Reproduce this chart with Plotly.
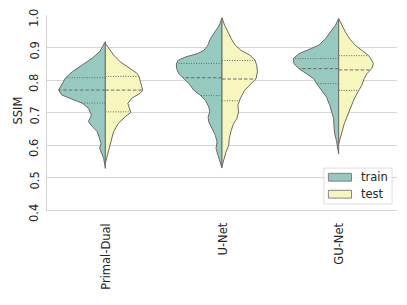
import numpy as np
import plotly.graph_objects as go

# ---------------- data ----------------
categories = ["Primal-Dual", "U-Net", "GU-Net"]
groups = ["train", "test"]

# kernel-density outlines: SSIM values and relative density (arbitrary units)
pd_train_ssim = [0.918, 0.887, 0.867, 0.846, 0.826, 0.807, 0.785, 0.769, 0.754, 0.738, 0.728,
                 0.713, 0.692, 0.672, 0.656, 0.641, 0.621, 0.605, 0.590, 0.574, 0.559, 0.528]
pd_train_dens = [0, 5.7, 13.3, 23, 33, 40, 44, 47, 44, 32, 23,
                 17, 14, 17, 13, 8, 6, 4.3, 5.7, 3.3, 1.7, 0]
pd_test_ssim = [0.913, 0.897, 0.877, 0.856, 0.836, 0.821, 0.810, 0.795, 0.779, 0.769, 0.759,
                0.744, 0.728, 0.713, 0.700, 0.687, 0.667, 0.641, 0.610, 0.585, 0.559, 0.544]
pd_test_dens = [0, 3.3, 8.3, 15, 25, 31.7, 34, 35, 36.7, 37.7, 35,
                26.7, 22.7, 24.3, 25.7, 20, 13.3, 8.3, 5.7, 4, 1.7, 0]

un_train_ssim = [0.991, 0.968, 0.948, 0.927, 0.907, 0.891, 0.881, 0.871, 0.861, 0.850, 0.835,
                 0.819, 0.804, 0.789, 0.768, 0.753, 0.737, 0.717, 0.702, 0.686, 0.671, 0.655,
                 0.630, 0.609, 0.589, 0.568, 0.548, 0.529]
un_train_dens = [0, 2.7, 7.3, 11.7, 14.3, 18.3, 25, 36.7, 44, 46, 45.7,
                 43.3, 38.3, 33.3, 28.3, 21.7, 16.7, 13.3, 12.3, 14, 13.3, 10.7,
                 6.7, 5, 6, 4, 2, 0]
un_test_ssim = [0.991, 0.968, 0.948, 0.927, 0.907, 0.891, 0.876, 0.861, 0.845, 0.825, 0.804,
                0.789, 0.768, 0.742, 0.722, 0.702, 0.681, 0.666, 0.645, 0.619, 0.599, 0.578,
                0.553, 0.535]
un_test_dens = [0, 2.7, 6, 9.3, 13.3, 19.3, 28.3, 33.3, 35, 35.7, 34.3,
                29.3, 22.7, 18.3, 16, 16.7, 15, 11.7, 9.3, 7.3, 6.7, 4,
                1.7, 0]

gu_train_ssim = [0.989, 0.968, 0.948, 0.927, 0.907, 0.891, 0.881, 0.866, 0.850, 0.835, 0.819,
                 0.804, 0.789, 0.768, 0.748, 0.722, 0.702, 0.681, 0.655, 0.635, 0.614, 0.599,
                 0.573]
gu_train_dens = [0, 3.3, 8.3, 13.3, 20, 31.7, 40, 45.7, 45, 40, 31.7,
                 25, 22.3, 16.7, 12.3, 9, 6.7, 5, 4.7, 4, 2.3, 1.3,
                 0]
gu_test_ssim = [0.989, 0.968, 0.948, 0.927, 0.907, 0.891, 0.876, 0.861, 0.850, 0.835, 0.819,
                0.804, 0.784, 0.763, 0.742, 0.717, 0.691, 0.666, 0.640, 0.619, 0.604]
gu_test_dens = [0, 3.3, 6.7, 11, 16.7, 23.3, 30, 33.3, 35, 33.3, 28.3,
                25.7, 23.3, 19.3, 15.7, 12.3, 9, 5.7, 3.3, 1.7, 0]

# quartiles (Q1, median, Q3)
pd_train_q = [0.729, 0.769, 0.807]
pd_test_q = [0.702, 0.769, 0.811]
un_train_q = [0.752, 0.807, 0.851]
un_test_q = [0.736, 0.803, 0.860]
gu_train_q = [0.789, 0.835, 0.866]
gu_test_q = [0.768, 0.831, 0.875]

y_ticks = [0.4, 0.5, 0.6, 0.7, 0.8, 0.9, 1.0]
y_ticklabels = ["0.4", "0.5", "0.6", "0.7", "0.8", "0.9", "1.0"]
y_title = "SSIM"

# ---------------- styling ----------------
FILL = {"train": "#96cac1", "test": "#f6f6bd"}
EDGE = "#6a6a6a"
TEXT = "#262626"
GRID = "#d5d5d5"
FONT = "DejaVu Sans"
FS = 11.5
HALF_WIDTH = 0.4

outlines = {
    ("Primal-Dual", "train"): (pd_train_ssim, pd_train_dens, pd_train_q),
    ("Primal-Dual", "test"): (pd_test_ssim, pd_test_dens, pd_test_q),
    ("U-Net", "train"): (un_train_ssim, un_train_dens, un_train_q),
    ("U-Net", "test"): (un_test_ssim, un_test_dens, un_test_q),
    ("GU-Net", "train"): (gu_train_ssim, gu_train_dens, gu_train_q),
    ("GU-Net", "test"): (gu_test_ssim, gu_test_dens, gu_test_q),
}
dmax = max(max(v[1]) for v in outlines.values())

fig = go.Figure()
qx, qy, mx, my = [], [], [], []
for i, cat in enumerate(categories):
    for g in groups:
        ys, ds, qs = outlines[(cat, g)]
        ys = np.array(ys, dtype=float)
        w = np.array(ds, dtype=float) / dmax * HALF_WIDTH
        sgn = -1 if g == "train" else 1
        xs = list(i + sgn * w) + [i, i]
        yy = list(ys) + [ys[-1], ys[0]]
        fig.add_trace(go.Scatter(
            x=xs, y=yy, mode="lines", fill="toself", fillcolor=FILL[g],
            line=dict(color=EDGE, width=1), showlegend=False, hoverinfo="skip"))
        order = np.argsort(ys)
        for k, q in enumerate(qs):
            wq = np.interp(q, ys[order], w[order])
            if k == 1:
                mx += [i, i + sgn * wq, None]
                my += [q, q, None]
            else:
                qx += [i, i + sgn * wq, None]
                qy += [q, q, None]

fig.add_trace(go.Scatter(x=qx, y=qy, mode="lines",
                         line=dict(color=EDGE, width=1, dash="1px,1.5px"),
                         showlegend=False, hoverinfo="skip"))
fig.add_trace(go.Scatter(x=mx, y=my, mode="lines",
                         line=dict(color=EDGE, width=1, dash="3.5px,2px"),
                         showlegend=False, hoverinfo="skip"))

annotations = []
# y tick labels (rotated, matplotlib style)
for v, lab in zip(y_ticks, y_ticklabels):
    annotations.append(dict(xref="paper", yref="y", x=0, y=v, text=lab, textangle=-90,
                            showarrow=False, xanchor="center", yanchor="middle",
                            xshift=-13, yshift=-3,
                            font=dict(family=FONT, size=FS, color=TEXT)))
# y axis title
annotations.append(dict(xref="paper", yref="paper", x=0, y=0.51, text=y_title, textangle=-90,
                        showarrow=False, xanchor="center", yanchor="middle", xshift=-29,
                        font=dict(family=FONT, size=FS, color=TEXT)))
# x tick labels
for i, cat in enumerate(categories):
    annotations.append(dict(xref="x", yref="paper", x=i, y=0, text=cat, textangle=-90,
                            showarrow=False, xanchor="center", yanchor="top", yshift=-11,
                            font=dict(family=FONT, size=FS, color=TEXT)))

# manual legend (matplotlib style, lower right)
shapes = [dict(type="rect", xref="paper", yref="paper",
               x0=0.791, x1=0.986, y0=0.031, y1=0.215,
               line=dict(color="#dddddd", width=1), fillcolor="rgba(255,255,255,0.85)",
               layer="above")]
for k, g in enumerate(groups):
    yc = 0.168 - k * 0.087
    shapes.append(dict(type="rect", xref="paper", yref="paper",
                       x0=0.804, x1=0.870, y0=yc - 0.02, y1=yc + 0.02,
                       line=dict(color=EDGE, width=0.8), fillcolor=FILL[g], layer="above"))
    annotations.append(dict(xref="paper", yref="paper", x=0.89, y=yc, text=g,
                            showarrow=False, xanchor="left", yanchor="middle",
                            font=dict(family=FONT, size=FS, color=TEXT)))

# the page body adds an 8 px offset, so the figure is 8 px smaller on each axis
fig.update_layout(
    width=399, height=297,
    margin=dict(l=39, r=10, t=7, b=95, autoexpand=False),
    paper_bgcolor="white", plot_bgcolor="white",
    font=dict(family=FONT, size=FS, color=TEXT),
    shapes=shapes, annotations=annotations,
    showlegend=False,
)
fig.update_xaxes(
    range=[-0.5, 2.5], tickvals=[0, 1, 2], showticklabels=False,
    showgrid=False, zeroline=False, automargin=False,
    showline=True, linecolor=GRID, linewidth=1, ticks="",
)
fig.update_yaxes(
    range=[0.4, 1.0], tickvals=y_ticks, showticklabels=False,
    showgrid=True, gridcolor=GRID, gridwidth=1, zeroline=False, automargin=False,
    showline=True, linecolor=GRID, linewidth=1, ticks="",
)

fig.write_html("out.html")
